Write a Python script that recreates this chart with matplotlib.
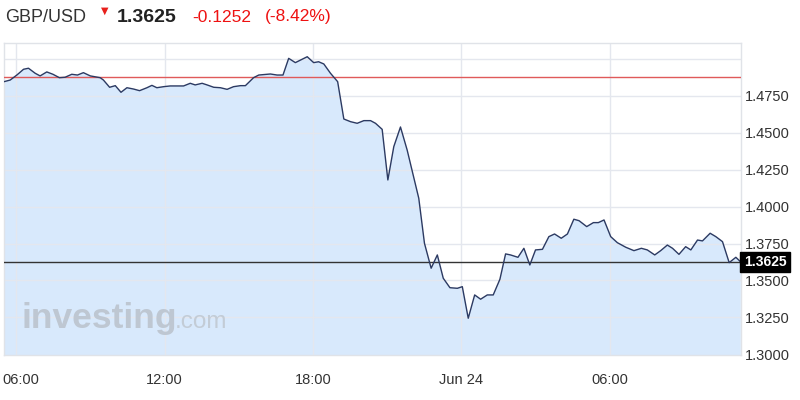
import matplotlib
matplotlib.use("Agg")
import matplotlib.pyplot as plt
import matplotlib.transforms as mtransforms

plt.rcParams['font.family'] = ['Liberation Sans', 'DejaVu Sans']

# hours since Jun 23 00:00
hours = [5.51, 5.76, 6.03, 6.30, 6.50, 6.77, 6.97, 7.24, 7.49, 7.75, 7.98, 8.25, 8.48, 8.72,
         9.00, 9.40, 9.53, 9.78, 10.01, 10.24, 10.48, 10.75, 10.99, 11.29, 11.49, 11.69, 11.96,
         12.23, 12.77, 13.04, 13.24, 13.52, 13.72, 13.99, 14.26, 14.53, 14.79, 15.07, 15.27,
         15.60, 15.81, 16.28, 16.55, 16.79, 17.02, 17.29, 17.77, 18.03, 18.23, 18.44, 18.71,
         19.00, 19.25, 19.52, 19.79, 20.06, 20.33, 20.53, 20.80, 21.03, 21.27, 21.54, 21.81,
         22.28, 22.51, 22.78, 23.03, 23.27, 23.54, 23.84, 24.04, 24.28, 24.54, 24.78, 25.05,
         25.29, 25.56, 25.79, 25.99, 26.29, 26.53, 26.77, 27.00, 27.28, 27.54, 27.77, 28.04,
         28.29, 28.55, 28.76, 29.07, 29.34, 29.54, 29.77, 30.04, 30.31, 30.65, 30.98, 31.28,
         31.52, 31.82, 32.06, 32.33, 32.54, 32.80, 33.07, 33.28, 33.55, 33.75, 34.06, 34.29,
         34.56, 34.83, 35.10, 35.30]
prices = [1.4847, 1.4858, 1.4892, 1.4931, 1.4938, 1.4904, 1.4886, 1.4913, 1.4897, 1.4874,
          1.4877, 1.4897, 1.4892, 1.4908, 1.4886, 1.4874, 1.4858, 1.4809, 1.4820, 1.4775,
          1.4806, 1.4797, 1.4786, 1.4806, 1.4822, 1.4806, 1.4813, 1.4818, 1.4818, 1.4836,
          1.4825, 1.4836, 1.4825, 1.4809, 1.4806, 1.4795, 1.4813, 1.4820, 1.4820, 1.4874,
          1.4892, 1.4899, 1.4892, 1.4892, 1.5005, 1.4976, 1.5016, 1.4976, 1.4982, 1.4967,
          1.4904, 1.4847, 1.4594, 1.4576, 1.4565, 1.4583, 1.4583, 1.4565, 1.4524, 1.4181,
          1.4407, 1.4540, 1.4384, 1.4057, 1.3752, 1.3583, 1.3673, 1.3515, 1.3451, 1.3447,
          1.3458, 1.3244, 1.3402, 1.3373, 1.3402, 1.3402, 1.3508, 1.3680, 1.3673, 1.3657,
          1.3718, 1.3605, 1.3707, 1.3711, 1.3797, 1.3815, 1.3786, 1.3815, 1.3915, 1.3905,
          1.3865, 1.3892, 1.3892, 1.3910, 1.3797, 1.3756, 1.3725, 1.3702, 1.3718, 1.3707,
          1.3673, 1.3702, 1.3740, 1.3718, 1.3677, 1.3729, 1.3707, 1.3774, 1.3768, 1.3820,
          1.3797, 1.3763, 1.3621, 1.3657, 1.3625]

prev_close = 1.4877
last_price = 1.3625
change = -0.1252
change_pct = -8.42

y_tick_values = [1.3000, 1.3250, 1.3500, 1.3750, 1.4000, 1.4250, 1.4500, 1.4750]
grid_levels = [1.3250, 1.3500, 1.3750, 1.4000, 1.4250, 1.4500, 1.4750, 1.5000]
x_tick_values = [6, 12, 18, 24, 30]
x_tick_labels = ['06:00', '12:00', '18:00', 'Jun 24', '06:00']

fig = plt.figure(figsize=(8, 4), dpi=100)
ax = fig.add_axes([0.005, 0.1125, 0.921, 0.78])
ax.set_xlim(hours[0], hours[-1])
ax.set_ylim(1.2995, 1.5109)

fill_color = '#d8e9fc'
ax.fill_between(hours, prices, 1.0, color=fill_color, zorder=1, linewidth=0)
ax.plot(hours, prices, color='#2c3a62', linewidth=1.0, zorder=5)

for g in grid_levels:
    ax.axhline(g, color='#e4e7ee', linewidth=1.0, zorder=2)
for xv in x_tick_values:
    ax.axvline(xv, color='#e4e7ee', linewidth=1.0, zorder=2)

ax.axhline(prev_close, color='#e05a5a', linewidth=1.0, zorder=4)
ax.axhline(last_price, color='#333333', linewidth=1.0, zorder=4)

for s in ax.spines.values():
    s.set_color('#e0e3e8')
    s.set_linewidth(1.0)

ax.yaxis.tick_right()
ax.set_yticks(y_tick_values)
ax.set_yticklabels([f'{v:.4f}' for v in y_tick_values])
ax.tick_params(axis='y', length=0, pad=3, labelsize=10.5, labelcolor='#333333')
ax.set_xticks(x_tick_values)
ax.set_xticklabels(x_tick_labels)
ax.tick_params(axis='x', length=0, pad=13, labelsize=10.5, labelcolor='#333333')
first = ax.get_xticklabels()[0]
first.set_transform(first.get_transform() + mtransforms.ScaledTranslation(5/100, 0, fig.dpi_scale_trans))

# current price box
trans = mtransforms.blended_transform_factory(ax.transAxes, ax.transData)
ax.text(1.004, last_price, f'{last_price:.4f}', transform=trans, ha='left', va='center',
        color='white', fontsize=10, fontweight='bold', zorder=10,
        bbox=dict(boxstyle='square,pad=0.25', facecolor='black', edgecolor='black'))

# watermark
ax.text(0.024, 0.085, 'investing', transform=ax.transAxes, fontsize=25.5, fontweight='bold',
        color='#bec7d2', ha='left', va='baseline', zorder=3)
ax.text(0.232, 0.085, '.com', transform=ax.transAxes, fontsize=17.5,
        color='#c3ccd6', ha='left', va='baseline', zorder=3)

# header
fig.text(5/800, 1 - 17/400, 'GBP/USD', fontsize=13, color='#333333', ha='left', va='center')
fig.text(105/800, 1 - 11/400, '\u25bc', fontsize=7, color='#e8201c', ha='center', va='center',
         family=['DejaVu Sans'])
fig.text(117/800, 1 - 17/400, f'{last_price:.4f}', fontsize=14, fontweight='bold',
         color='#222222', ha='left', va='center')
fig.text(192/800, 1 - 17/400, f'{change:.4f}', fontsize=12.5, color='#ee1111', ha='left', va='center')
fig.text(265/800, 1 - 17/400, f'({change_pct:.2f}%)', fontsize=12.5, color='#ee1111',
         ha='left', va='center')

fig.savefig('out.png', dpi=100)
